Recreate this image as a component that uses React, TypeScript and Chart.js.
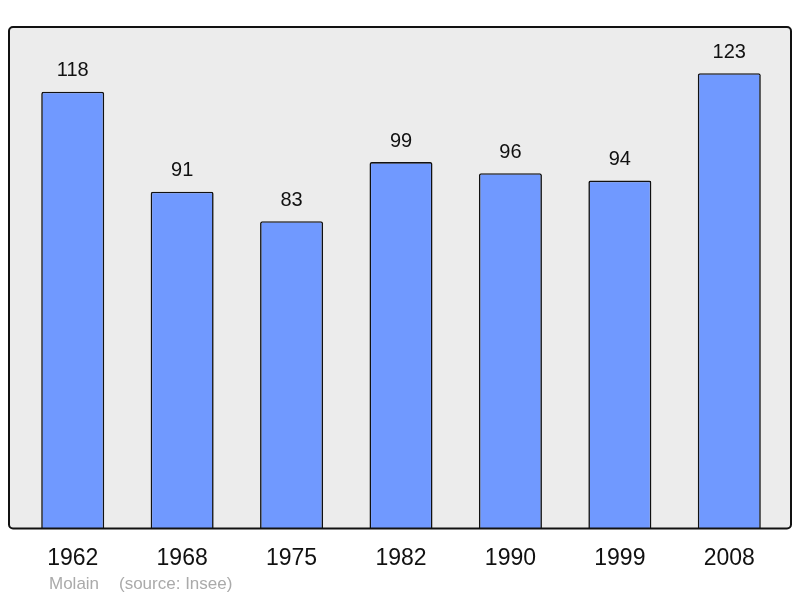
import { useEffect, useRef } from "react";
import { Chart, registerables, type Plugin } from "chart.js";

Chart.register(...registerables);

const YEARS = ["1962", "1968", "1975", "1982", "1990", "1999", "2008"];
const POPULATION = [118, 91, 83, 99, 96, 94, 123];
const PLACE = "Molain";
const SOURCE = "(source: Insee)";

const FONT = "'Liberation Sans', Arial, sans-serif";

// grey panel behind the bars, a little wider than the chart area
const panel: Plugin<"bar"> = {
  id: "panel",
  beforeDraw(chart) {
    const { ctx, chartArea: a } = chart;
    const x = a.left - 9;
    const w = a.right + 7 - x;
    ctx.save();
    ctx.beginPath();
    ctx.roundRect(x, a.top, w, a.bottom - a.top, 4);
    ctx.fillStyle = "#ececec";
    ctx.fill();
    ctx.restore();
  },
  afterDatasetsDraw(chart) {
    const { ctx, chartArea: a } = chart;
    const x = a.left - 9;
    const w = a.right + 7 - x;
    ctx.save();
    ctx.beginPath();
    ctx.roundRect(x, a.top, w, a.bottom - a.top, 4);
    ctx.lineWidth = 2;
    ctx.strokeStyle = "#111";
    ctx.stroke();

    // value labels
    ctx.fillStyle = "#111";
    ctx.font = `20px ${FONT}`;
    ctx.textAlign = "center";
    ctx.textBaseline = "middle";
    chart.getDatasetMeta(0).data.forEach((bar, i) => {
      ctx.fillText(String(POPULATION[i]), bar.x, bar.y - 21);
    });

    // footer
    ctx.fillStyle = "#aaa";
    ctx.font = `17px ${FONT}`;
    ctx.textAlign = "left";
    ctx.fillText(PLACE, 49, 584);
    ctx.fillText(SOURCE, 119, 584);
    ctx.restore();
  },
};

export default function App() {
  const canvasRef = useRef<HTMLCanvasElement>(null);

  useEffect(() => {
    document.body.style.margin = "0";
    if (!canvasRef.current) return;
    const chart = new Chart(canvasRef.current, {
      type: "bar",
      data: {
        labels: YEARS,
        datasets: [
          {
            data: POPULATION,
            backgroundColor: "#7099ff",
            borderColor: "#111",
            borderWidth: 1.6,
            borderSkipped: "bottom",
            borderRadius: { topLeft: 2, topRight: 2 },
            barPercentage: 0.576,
            categoryPercentage: 1,
          },
        ],
      },
      options: {
        responsive: false,
        animation: false,
        layout: { padding: { left: 18, right: 16, top: 27, bottom: 10 } },
        plugins: { legend: { display: false }, tooltip: { enabled: false } },
        scales: {
          x: {
            grid: { display: false, drawTicks: false },
            border: { display: false },
            ticks: { color: "#111", font: { size: 23, family: FONT }, padding: 16 },
          },
          y: { display: false, min: 0, max: 135.5 },
        },
      },
      plugins: [panel],
    });
    return () => chart.destroy();
  }, []);

  return <canvas ref={canvasRef} width={800} height={598} />;
}
